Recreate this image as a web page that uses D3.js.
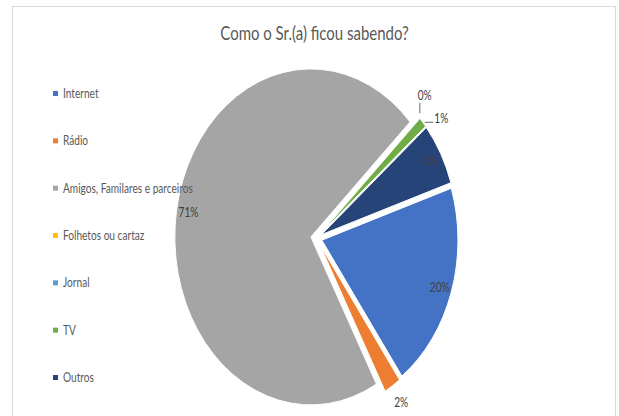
<!DOCTYPE html>
<html>
<head>
<meta charset="utf-8">
<script src="https://cdn.jsdelivr.net/npm/d3@7"></script>
<style>
  html, body { margin: 0; padding: 0; background: #fff; }
  svg { display: block; }
  text { font-family: Lato, "Open Sans", sans-serif; }
</style>
</head>
<body>
<svg id="chart" width="619" height="416"></svg>
<script>
// Survey answers: "how did you hear about us?"
const categories = ["Internet", "Rádio", "Amigos, Familares e parceiros", "Folhetos ou cartaz", "Jornal", "TV", "Outros"];
const shares = [20, 2, 71, 0, 0, 1, 6];
const percentLabels = ["20%", "2%", "71%", "0%", "0%", "1%", "6%"];
const colors = ["#4472C4", "#ED7D31", "#A5A5A5", "#FFC000", "#5B9BD5", "#70AD47", "#264478"];
const title = "Como o Sr.(a) ficou sabendo?";

const W = 619, H = 416;
const squeeze = 0.81;            // horizontal compression of the whole drawing
const R = 168;                   // pie radius (vertical)
const explode = 7;               // every slice is pulled out from the centre
const cx = 316.5, cy = 238;
const firstAngle = 72 * Math.PI / 180;
const deg = Math.PI / 180;

const svg = d3.select("#chart");

// chart area border
svg.append("rect")
  .attr("x", 12.5).attr("y", 6.5)
  .attr("width", 603).attr("height", 430)
  .attr("fill", "#fff").attr("stroke", "#d9d9d9").attr("stroke-width", 1);

// title
svg.append("text")
  .attr("transform", `translate(${314.5},${40}) scale(${squeeze},1)`)
  .attr("text-anchor", "middle")
  .attr("font-size", 18.5)
  .attr("fill", "#595959")
  .text(title);

// pie
const pie = d3.pie().sort(null).value(d => d.value)
  .startAngle(firstAngle).endAngle(firstAngle + 2 * Math.PI);
const arcs = pie(categories.map((c, i) => ({ name: c, value: shares[i], label: percentLabels[i], color: colors[i] })));
const arc = d3.arc().innerRadius(0).outerRadius(R);

const mid = d => (d.startAngle + d.endAngle) / 2;
// position in page coordinates for an angle / radius around the pie centre
const toPage = (a, r) => [cx + Math.sin(a) * r * squeeze, cy - Math.cos(a) * r];

const pieG = svg.append("g").attr("transform", `translate(${cx},${cy}) scale(${squeeze},1)`);
pieG.selectAll("path")
  .data(arcs.filter(d => d.value > 0))
  .join("path")
  .attr("transform", d => `translate(${Math.sin(mid(d)) * explode},${-Math.cos(mid(d)) * explode})`)
  .attr("d", arc)
  .attr("fill", d => d.data.color)
  .attr("stroke", "#fff")
  .attr("stroke-width", 1)
  .attr("vector-effect", "non-scaling-stroke");

// legend (drawn over the plot area)
const legendY = d3.scalePoint().domain(categories).range([93.5, 377.5]);
const legend = svg.append("g").selectAll("g")
  .data(categories)
  .join("g")
  .attr("transform", d => `translate(0,${legendY(d)})`);
legend.append("rect")
  .attr("x", 53).attr("y", -2.5).attr("width", 5).attr("height", 5)
  .attr("fill", (d, i) => colors[i]);
legend.append("text")
  .attr("transform", `translate(63,0) scale(${squeeze},1)`)
  .attr("dy", "0.35em")
  .attr("font-size", 12.5)
  .attr("fill", "#595959")
  .text(d => d);

// data labels: large slices inside the rim, small ones outside
const insideR = R + explode - 15;
const outsideR = R + explode + 20;
const labels = [];
arcs.forEach((d, i) => {
  const a = mid(d);
  // zero slices sitting on the same angle share a single label
  const dup = labels.some(l => l.d.value === 0 && d.value === 0 && Math.abs(l.base - a) < 1e-6);
  if (dup) return;
  labels.push({ d, base: a, angle: a, inside: d.value >= 5 });
});

// spread outside labels that would collide
const outside = labels.filter(l => !l.inside).sort((p, q) => p.angle - q.angle);
const minSep = 9 * deg;
for (let it = 0; it < 20; it++) {
  for (let i = 1; i < outside.length; i++) {
    const gap = outside[i].angle - outside[i - 1].angle;
    if (gap < minSep) {
      const push = (minSep - gap) / 2;
      outside[i - 1].angle -= push;
      outside[i].angle += push;
    }
  }
}

const labelG = svg.append("g");
labels.forEach(l => {
  const [x, y] = toPage(l.angle, l.inside ? insideR : outsideR);
  l.x = x; l.y = y;
  l.node = labelG.append("text")
    .attr("transform", `translate(${x},${y}) scale(${squeeze},1)`)
    .attr("text-anchor", "middle")
    .attr("dy", "0.35em")
    .attr("font-size", 12.5)
    .attr("fill", "#404040")
    .text(l.d.data.label);
});

// leader lines for labels that were moved away from their slice
labels.filter(l => !l.inside && Math.abs(l.angle - l.base) > 0.5 * deg).forEach(l => {
  const bb = l.node.node().getBBox();
  const w = bb.width * squeeze;
  const box = { x0: l.x - w / 2, x1: l.x + w / 2, y0: l.y - 6, y1: l.y + 6 };
  const [px, py] = toPage(l.base, R + explode);
  let x1, y1, x2, y2;
  if (px >= box.x0 && px <= box.x1) {
    x1 = x2 = px; y1 = box.y1 + 1; y2 = py - 5;
  } else if (py >= box.y0 && py <= box.y1) {
    y1 = y2 = py; x1 = px + 2; x2 = box.x0 - 1;
  } else {
    x1 = px; y1 = py; x2 = px < box.x0 ? box.x0 : box.x1; y2 = l.y;
  }
  labelG.append("line")
    .attr("x1", x1).attr("y1", y1).attr("x2", x2).attr("y2", y2)
    .attr("stroke", "#404040").attr("stroke-width", 0.8);
});
</script>
</body>
</html>
